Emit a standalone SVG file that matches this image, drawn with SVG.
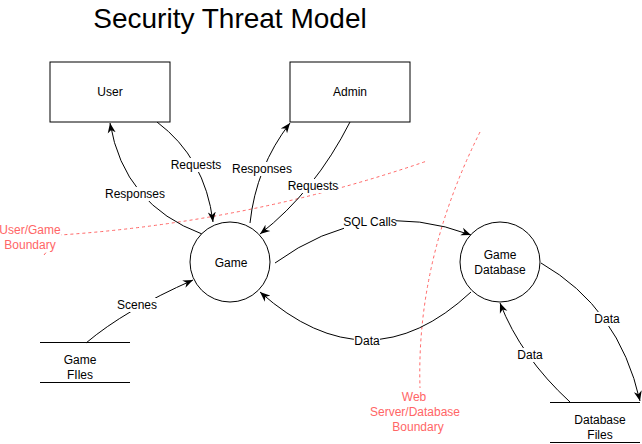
<svg xmlns="http://www.w3.org/2000/svg" width="642" height="444" viewBox="0 0 642 444">
<style>
text{font-family:"Liberation Sans",Arial,sans-serif;font-size:12px;fill:#000;text-anchor:middle;dominant-baseline:central}
.title{font-size:28px;dominant-baseline:auto}
.red{fill:#FF6666}
.node{fill:#fff;stroke:#000;stroke-width:1}
.edge{fill:none;stroke:#000;stroke-width:1;marker-end:url(#arr)}
.bound{fill:none;stroke:#FF6666;stroke-width:1;stroke-dasharray:3 3}
.bg{fill:#fff}
.store{stroke:#000;stroke-width:1}
</style>
<defs>
<marker id="arr" viewBox="0 0 10 10" refX="10" refY="5" markerWidth="10" markerHeight="10" markerUnits="userSpaceOnUse" orient="auto">
<path d="M0,1 L10,5 L0,9 L3,5 z" fill="#000"/>
</marker>
</defs>
<rect width="642" height="444" fill="#fff"/>
<text class="title" x="230" y="28">Security Threat Model</text>

<g id="boundaries">
<path class="bound" d="M44,255 L60,235 Q250,222 427,161"/>
<path class="bound" d="M480,132 Q416,260 420,388"/>
</g>

<g id="connectors">
<path class="edge" d="M202,234 Q124,205 110,123"/>
<path class="edge" d="M157,122 Q205,158 213,222"/>
<path class="edge" d="M250,223 Q256,167 290,123"/>
<path class="edge" d="M350,122 Q315,191 260,234"/>
<path class="edge" d="M275,263 Q367,196 471,235"/>
<path class="edge" d="M471,292 Q368,388 260,292"/>
<path class="edge" d="M86,343 Q125,310 193,280"/>
<path class="edge" d="M570,402 Q521,357 500,303"/>
<path class="edge" d="M541,263 Q619,308 640,401"/>
</g>

<g id="edge-labels">
<rect class="bg" x="106" y="187" width="58" height="14"/><text x="135" y="194">Responses</text>
<rect class="bg" x="172" y="158" width="49" height="14"/><text x="196" y="165">Requests</text>
<rect class="bg" x="233" y="162" width="58" height="14"/><text x="262" y="169">Responses</text>
<rect class="bg" x="289" y="179" width="49" height="14"/><text x="313" y="186">Requests</text>
<rect class="bg" x="344" y="215" width="52" height="14"/><text x="370" y="222">SQL Calls</text>
<rect class="bg" x="354" y="334" width="26" height="14"/><text x="367" y="341">Data</text>
<rect class="bg" x="117" y="298" width="40" height="14"/><text x="137" y="305">Scenes</text>
<rect class="bg" x="517" y="348" width="26" height="14"/><text x="530" y="355">Data</text>
<rect class="bg" x="594" y="312" width="26" height="14"/><text x="607" y="319">Data</text>
</g>

<g id="user"><rect class="node" x="50" y="62" width="120" height="60"/><text x="110" y="92">User</text></g>
<g id="admin"><rect class="node" x="290" y="62" width="120" height="60"/><text x="350" y="92">Admin</text></g>
<g id="game"><circle class="node" cx="230" cy="262" r="40"/><text x="231" y="263">Game</text></g>
<g id="game-database"><circle class="node" cx="500" cy="262" r="40"/><text x="500" y="255">Game</text><text x="500" y="270">Database</text></g>
<g id="game-files"><line class="store" x1="40" y1="342.5" x2="130" y2="342.5"/><line class="store" x1="40" y1="382.5" x2="130" y2="382.5"/><text x="80" y="360">Game</text><text x="80" y="375">FIles</text></g>
<g id="database-files"><line class="store" x1="550" y1="402.5" x2="640" y2="402.5"/><line class="store" x1="550" y1="442.5" x2="640" y2="442.5"/><text x="600" y="420">Database</text><text x="600" y="435">Files</text></g>

<g id="boundary-labels">
<rect class="bg" x="0" y="222" width="61" height="30"/>
<text class="red" x="30" y="230">User/Game</text><text class="red" x="30" y="245">Boundary</text>
<rect class="bg" x="368" y="390" width="94" height="45"/>
<text class="red" x="414" y="397">Web</text><text class="red" x="415" y="412">Server/Database</text><text class="red" x="418" y="427">Boundary</text>
</g>
</svg>
